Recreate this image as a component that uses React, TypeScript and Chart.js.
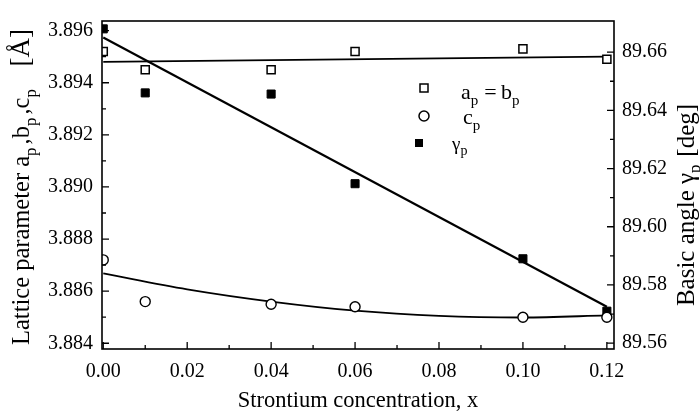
import { useEffect, useRef } from "react";
import { Chart, registerables } from "chart.js";

Chart.register(...registerables);

// ---- data ----
const concentrations = [0.0, 0.01, 0.04, 0.06, 0.10, 0.12];
const apValues = [3.8952, 3.8945, 3.8945, 3.8952, 3.8953, 3.8949];
const cpValues = [3.8872, 3.8856, 3.8855, 3.8854, 3.8850, 3.8850];
const gammaValues = [89.668, 89.646, 89.6456, 89.6148, 89.589, 89.571];

const apFitX = [0.0, 0.12];
const apFitY = [3.8948, 3.8950];
const cpFitX = [0.0, 0.02, 0.04, 0.06, 0.08, 0.10, 0.12];
const cpFitY = [3.88668, 3.88607, 3.8856, 3.88525, 3.88505, 3.88499, 3.88507];
const gammaFitX = [0.0, 0.12];
const gammaFitY = [89.665, 89.5725];

const xTicks = [0.0, 0.02, 0.04, 0.06, 0.08, 0.1, 0.12];
const xMinorTicks = [0.01, 0.03, 0.05, 0.07, 0.09, 0.11];
const leftTicks = [3.884, 3.886, 3.888, 3.89, 3.892, 3.894, 3.896];
const leftMinorTicks = [3.885, 3.887, 3.889, 3.891, 3.893, 3.895];
const rightTicks = [89.56, 89.58, 89.6, 89.62, 89.64, 89.66];
const rightMinorTicks = [89.57, 89.59, 89.61, 89.63, 89.65];

const xTitle = "Strontium concentration, x";

const FONT = "'Liberation Serif', 'Times New Roman', serif";

const pts = (xs: number[], ys: number[]) => xs.map((x, i) => ({ x, y: ys[i] }));

type Part = [string, boolean];

function drawParts(ctx: CanvasRenderingContext2D, parts: Part[], x: number, y: number, size: number, subSize: number, subDrop: number, subGap = 1.5) {
  let cx = x;
  for (const [t, sub] of parts) {
    ctx.font = `${sub ? subSize : size}px ${FONT}`;
    ctx.fillText(t, cx, sub ? y + subDrop : y);
    cx += ctx.measureText(t).width + (sub ? subGap : 0);
  }
  return cx - x;
}

function measureParts(ctx: CanvasRenderingContext2D, parts: Part[], size: number, subSize: number, subGap = 1.5) {
  let w = 0;
  for (const [t, sub] of parts) {
    ctx.font = `${sub ? subSize : size}px ${FONT}`;
    w += ctx.measureText(t).width + (sub ? subGap : 0);
  }
  return w;
}

const decorPlugin = {
  id: "decor",
  afterDraw(chart: any) {
    const ctx: CanvasRenderingContext2D = chart.ctx;
    const { left, right, top, bottom } = chart.chartArea;
    const xs = chart.scales.x;
    const yl = chart.scales.y;
    const yr = chart.scales.y1;
    ctx.save();
    ctx.strokeStyle = "#000";
    ctx.fillStyle = "#000";
    // frame
    ctx.lineWidth = 1.6;
    ctx.strokeRect(left, top, right - left, bottom - top);
    // inward ticks
    ctx.lineWidth = 1.3;
    ctx.beginPath();
    for (const v of xTicks) {
      const px = xs.getPixelForValue(v);
      ctx.moveTo(px, bottom);
      ctx.lineTo(px, bottom - 7);
    }
    for (const v of xMinorTicks) {
      const px = xs.getPixelForValue(v);
      ctx.moveTo(px, bottom);
      ctx.lineTo(px, bottom - 4);
    }
    for (const v of leftTicks) {
      const py = yl.getPixelForValue(v);
      ctx.moveTo(left, py);
      ctx.lineTo(left + 7, py);
    }
    for (const v of leftMinorTicks) {
      const py = yl.getPixelForValue(v);
      ctx.moveTo(left, py);
      ctx.lineTo(left + 4, py);
    }
    for (const v of rightTicks) {
      const py = yr.getPixelForValue(v);
      ctx.moveTo(right, py);
      ctx.lineTo(right - 7, py);
    }
    for (const v of rightMinorTicks) {
      const py = yr.getPixelForValue(v);
      ctx.moveTo(right, py);
      ctx.lineTo(right - 4, py);
    }
    ctx.stroke();

    // legend
    ctx.textBaseline = "alphabetic";
    ctx.textAlign = "left";
    ctx.lineWidth = 1.5;
    ctx.fillStyle = "#fff";
    ctx.fillRect(420, 84, 8, 8);
    ctx.strokeRect(420, 84, 8, 8);
    ctx.beginPath();
    ctx.arc(424, 116, 5, 0, Math.PI * 2);
    ctx.stroke();
    ctx.fillStyle = "#000";
    ctx.fillRect(415, 139, 8, 8);
    drawParts(ctx, [["a", false], ["p", true], ["\u2009=\u2009b", false], ["p", true]], 461, 99, 22, 15, 6);
    drawParts(ctx, [["c", false], ["p", true]], 463, 124, 22, 15, 6);
    drawParts(ctx, [["γ", false], ["p", true]], 452, 150, 19, 14, 5);

    // x axis title
    ctx.font = `22.5px ${FONT}`;
    ctx.textAlign = "center";
    ctx.fillText(xTitle, 358, 407);
    ctx.textAlign = "left";

    // left axis title
    const lParts: Part[] = [["Lattice parameter a", false], ["p", true], [",b", false], ["p", true], [",c", false], ["p", true]];
    ctx.save();
    ctx.translate(29, 345);
    ctx.rotate(-Math.PI / 2);
    const end = drawParts(ctx, lParts, 0, 0, 24.5, 17, 7, 3);
    ctx.font = `27px ${FONT}`;
    ctx.textAlign = "right";
    const bw = ctx.measureText("[Å]").width;
    ctx.fillText("[Å]", Math.max(end + 10 + bw, 316), 0);
    ctx.restore();

    // right axis title
    const rParts: Part[] = [["Basic angle γ", false], ["p", true], [" [deg]", false]];
    ctx.save();
    ctx.translate(694, 205);
    ctx.rotate(-Math.PI / 2);
    const rw = measureParts(ctx, rParts, 25, 17);
    drawParts(ctx, rParts, -rw / 2, 0, 25, 17, 6);
    ctx.restore();

    ctx.restore();
  },
};

export default function App() {
  const ref = useRef<HTMLCanvasElement | null>(null);

  useEffect(() => {
    document.body.style.margin = "0";
    const canvas = ref.current;
    if (!canvas) return;
    const tickFont = { family: FONT, size: 20 };
    const chart = new Chart(canvas, {
      type: "scatter",
      data: {
        datasets: [
          {
            label: "a_p = b_p",
            data: pts(concentrations, apValues),
            yAxisID: "y",
            pointStyle: "rect",
            pointRadius: 5.7,
            pointBackgroundColor: "#fff",
            pointBorderColor: "#000",
            pointBorderWidth: 1.5,
            showLine: false,
          },
          {
            label: "c_p",
            data: pts(concentrations, cpValues),
            yAxisID: "y",
            pointStyle: "circle",
            pointRadius: 5,
            pointBackgroundColor: "#fff",
            pointBorderColor: "#000",
            pointBorderWidth: 1.4,
            showLine: false,
          },
          {
            label: "γ_p",
            data: pts(concentrations, gammaValues),
            yAxisID: "y1",
            pointStyle: "rect",
            pointRadius: 5.7,
            pointBackgroundColor: "#000",
            pointBorderColor: "#000",
            pointBorderWidth: 1,
            showLine: false,
          },
          {
            label: "a fit",
            data: pts(apFitX, apFitY),
            yAxisID: "y",
            showLine: true,
            pointRadius: 0,
            borderColor: "#000",
            borderWidth: 1.8,
          },
          {
            label: "c fit",
            data: pts(cpFitX, cpFitY),
            yAxisID: "y",
            showLine: true,
            pointRadius: 0,
            borderColor: "#000",
            borderWidth: 1.8,
            cubicInterpolationMode: "monotone",
          },
          {
            label: "gamma fit",
            data: pts(gammaFitX, gammaFitY),
            yAxisID: "y1",
            showLine: true,
            pointRadius: 0,
            borderColor: "#000",
            borderWidth: 2.2,
          },
        ],
      },
      options: {
        animation: false,
        responsive: false,
        layout: { padding: { top: 12, left: 0, right: 0, bottom: 0 } },
        plugins: { legend: { display: false }, tooltip: { enabled: false } },
        scales: {
          x: {
            type: "linear",
            min: -0.0003,
            max: 0.1217,
            grid: { display: false, drawTicks: false },
            border: { display: false },
            afterBuildTicks: (s: any) => {
              s.ticks = xTicks.map((v) => ({ value: v }));
            },
            afterFit: (s: any) => {
              s.height = 71;
            },
            ticks: {
              color: "#000",
              font: tickFont,
              padding: 11,
              maxRotation: 0,
              autoSkip: false,
              callback: (v: any) => Number(v).toFixed(2),
            },
          },
          y: {
            type: "linear",
            position: "left",
            min: 3.88378,
            max: 3.89637,
            grid: { display: false, drawTicks: false },
            border: { display: false },
            afterBuildTicks: (s: any) => {
              s.ticks = leftTicks.map((v) => ({ value: v }));
            },
            afterFit: (s: any) => {
              s.width = 102;
            },
            ticks: {
              color: "#000",
              font: tickFont,
              padding: 9,
              autoSkip: false,
              callback: (v: any) => Number(v).toFixed(3),
            },
          },
          y1: {
            type: "linear",
            position: "right",
            min: 89.558,
            max: 89.6707,
            grid: { display: false, drawTicks: false },
            border: { display: false },
            afterBuildTicks: (s: any) => {
              s.ticks = rightTicks.map((v) => ({ value: v }));
            },
            afterFit: (s: any) => {
              s.width = 86;
            },
            ticks: {
              color: "#000",
              font: tickFont,
              padding: 8,
              autoSkip: false,
              callback: (v: any) => Number(v).toFixed(2),
            },
          },
        },
      },
      plugins: [decorPlugin],
    } as any);
    return () => chart.destroy();
  }, []);

  return (
    <div style={{ width: 700, height: 420, background: "#fff" }}>
      <canvas ref={ref} width={700} height={420} style={{ display: "block" }} />
    </div>
  );
}
